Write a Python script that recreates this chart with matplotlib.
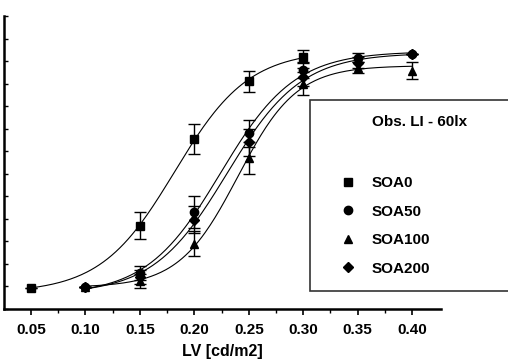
import numpy as np
import matplotlib
matplotlib.use("Agg")
import matplotlib.pyplot as plt
from matplotlib.lines import Line2D

plt.rcParams['font.family'] = ['Liberation Sans', 'DejaVu Sans']

# values (y axis in arbitrary units, one tick = 0.1)
lv_soa0 = [0.05, 0.15, 0.20, 0.25, 0.30]
soa0 = [0.095, 0.37, 0.755, 1.01, 1.12]
soa0_err = [0.0, 0.06, 0.067, 0.045, 0.03]

lv = [0.10, 0.15, 0.20, 0.25, 0.30, 0.35, 0.40]
soa50 = [0.098, 0.16, 0.43, 0.78, 1.06, 1.115, 1.13]
soa50_err = [0.0, 0.03, 0.07, 0.06, 0.035, 0.02, 0.0]
soa100 = [0.098, 0.125, 0.29, 0.67, 1.0, 1.07, 1.058]
soa100_err = [0.0, 0.03, 0.055, 0.07, 0.05, 0.025, 0.038]
soa200 = [0.098, 0.142, 0.395, 0.74, 1.03, 1.093, 1.133]
soa200_err = [0.0, 0.03, 0.06, 0.06, 0.04, 0.025, 0.0]

series = [
    ("SOA0", lv_soa0, soa0, soa0_err, 's'),
    ("SOA50", lv, soa50, soa50_err, 'o'),
    ("SOA100", lv, soa100, soa100_err, '^'),
    ("SOA200", lv, soa200, soa200_err, 'D'),
]

xticks = [0.05, 0.10, 0.15, 0.20, 0.25, 0.30, 0.35, 0.40]


def fit_logistic(x, y):
    # y = b + a / (1 + exp(-(x - x0) / s)), a and b solved linearly
    x = np.asarray(x)
    y = np.asarray(y)
    best = None
    for x0 in np.linspace(0.12, 0.30, 91):
        for s in np.linspace(0.01, 0.08, 71):
            g = 1.0 / (1.0 + np.exp(-(x - x0) / s))
            m = np.column_stack([np.ones_like(g), g])
            coef, *_ = np.linalg.lstsq(m, y, rcond=None)
            r = np.sum((m @ coef - y) ** 2)
            if best is None or r < best[0]:
                best = (r, x0, s, coef)
    _, x0, s, coef = best
    return lambda t: coef[0] + coef[1] / (1.0 + np.exp(-(t - x0) / s))


fig = plt.figure(figsize=(5.08, 3.62), dpi=100)
ax = fig.add_axes([4 / 508, 1 - 309 / 362, 437 / 508, 293 / 362])

for name, x, y, e, m in series:
    f = fit_logistic(x, y)
    xs = np.linspace(min(x), max(x), 200)
    ax.plot(xs, f(xs), color='black', lw=0.8)
    ax.errorbar(x, y, yerr=e, fmt=m, color='black', ms=6 if m != 'D' else 5,
                capsize=4, elinewidth=1.0, capthick=1.0)

ax.set_xlim(0.0253, 0.4265)
ax.set_ylim(0, 1.3)
ax.set_xticks(xticks)
ax.set_xticklabels([f"{t:.2f}" for t in xticks])
ax.set_xticks([0.075, 0.125, 0.175, 0.225, 0.275, 0.325, 0.375], minor=True)
ax.set_yticks(np.arange(0, 1.31, 0.1))
ax.set_yticklabels([])
ax.tick_params(axis='x', which='major', direction='out', length=4, width=1.2,
               labelsize=11, pad=6)
ax.tick_params(axis='x', which='minor', direction='out', length=3, width=1.0)
ax.tick_params(axis='y', direction='in', length=3, width=1.0)
for t in ax.get_xticklabels():
    t.set_fontweight('bold')
ax.spines['top'].set_visible(False)
ax.spines['right'].set_visible(False)
ax.spines['left'].set_linewidth(1.8)
ax.spines['bottom'].set_linewidth(1.8)
ax.set_xlabel("LV [cd/m2]", fontsize=11.5, fontweight='bold', labelpad=5)

handles = [Line2D([], [], ls='none', marker=m, color='black',
                  ms=6 if m != 'D' else 5) for _, _, _, _, m in series]
labels = [s[0] for s in series]
leg = fig.legend(handles, labels, title="Obs. LI - 60lx\n\n",
                 loc='upper left', mode='expand',
                 bbox_to_anchor=(310 / 508, 1 - 300 / 362, 220 / 508, 200 / 362),
                 borderaxespad=0, borderpad=1.0, handlelength=3.0,
                 handletextpad=0.0, labelspacing=0.95, fancybox=False,
                 prop={'size': 11, 'weight': 'bold'},
                 title_fontproperties={'size': 11, 'weight': 'bold'})
leg.get_frame().set_edgecolor('black')
leg.get_frame().set_linewidth(1.2)

fig.savefig("out.png", dpi=100)
